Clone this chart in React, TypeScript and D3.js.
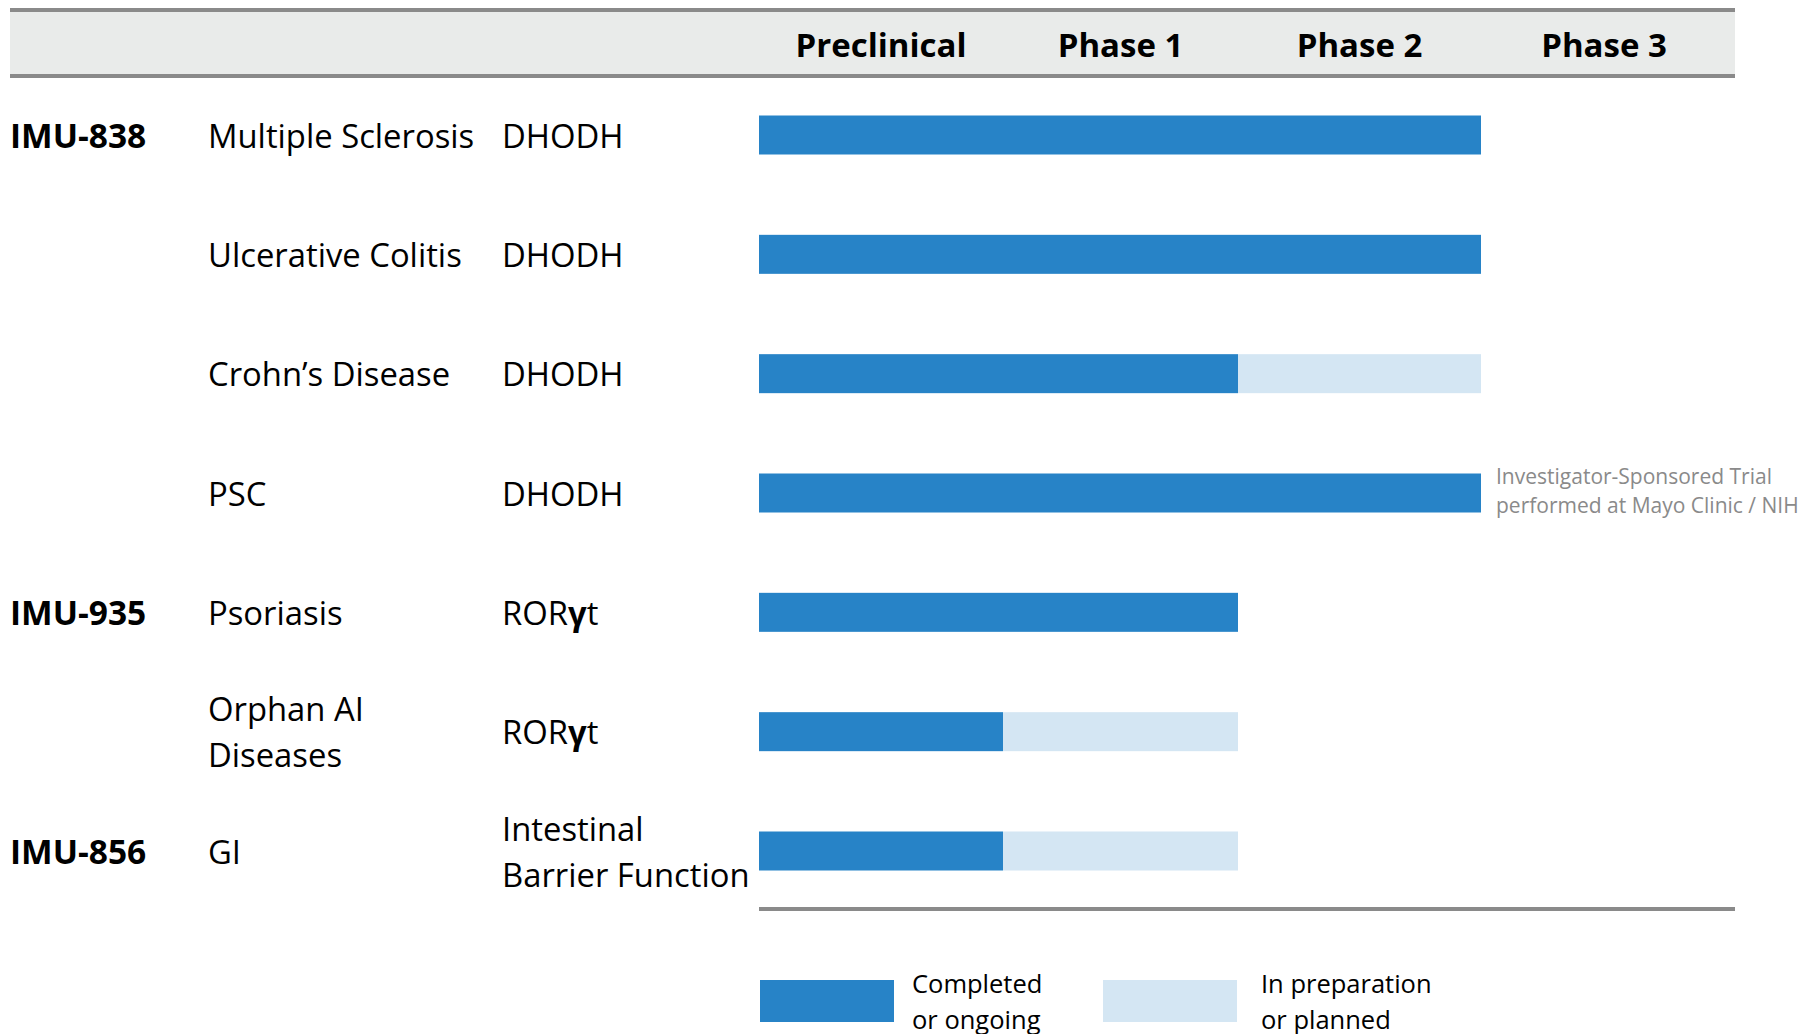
import React, { useEffect } from "react";
import * as d3 from "d3";

// pipeline data
const phases = ["Preclinical", "Phase 1", "Phase 2", "Phase 3"];
const compounds = ["IMU-838", "", "", "", "IMU-935", "", "IMU-856"];
const indications = [
  ["Multiple Sclerosis"],
  ["Ulcerative Colitis"],
  ["Crohn’s Disease"],
  ["PSC"],
  ["Psoriasis"],
  ["Orphan AI", "Diseases"],
  ["GI"],
];
const targets = [
  ["DHODH"],
  ["DHODH"],
  ["DHODH"],
  ["DHODH"],
  ["RORγt"],
  ["RORγt"],
  ["Intestinal", "Barrier Function"],
];
// progress measured in phases (0 = start of preclinical)
const completed = [3, 3, 2, 3, 2, 1, 1];
const planned = [3, 3, 3, 3, 2, 2, 2];
const noteRow = 3;
const noteLines = ["Investigator-Sponsored Trial", "performed at Mayo Clinic / NIH"];
const legendLabels = [
  ["Completed", "or ongoing"],
  ["In preparation", "or planned"],
];

const W = 1804;
const H = 1034;
const DARK = "#2783c7";
const LIGHT = "#d4e6f3";
const RULE = "#8a8a8a";
const FONT = "'Open Sans', sans-serif";

// draws "γ" in bold, like the original slide
const renderLabel = (s: string) =>
  s.split(/(γ)/).map((part, i) =>
    part === "γ" ? (
      <tspan key={i} fontWeight="bold">
        {part}
      </tspan>
    ) : (
      <tspan key={i}>{part}</tspan>
    )
  );

const App: React.FC = () => {
  useEffect(() => {
    document.body.style.margin = "0";
  }, []);

  const rows = d3.range(compounds.length);
  // phase columns are not quite equal on the slide
  const x = d3.scaleLinear().domain([0, 1, 2, 3, 4]).range([759, 1003, 1238, 1481, 1727]);
  const y = d3.scalePoint<number>().domain(rows).range([135, 851]);
  const barH = 39;
  const lineGap = 46;

  const multiLine = (lines: string[], xPos: number, cy: number, key: string) => (
    <text key={key} x={xPos} y={cy} fontSize={32.8} fill="#000" fontFamily={FONT}>
      {lines.map((l, i) => (
        <tspan key={i} x={xPos} y={cy + (i - (lines.length - 1) / 2) * lineGap} dy="0.36em">
          {renderLabel(l)}
        </tspan>
      ))}
    </text>
  );

  return (
    <svg
      width={W}
      height={H}
      style={{ position: "absolute", left: 0, top: 0, display: "block", background: "#fff" }}
    >
      {/* header band */}
      <rect x={10} y={10} width={1725} height={66} fill="#e9ebea" />
      <line x1={10} x2={1735} y1={10} y2={10} stroke={RULE} strokeWidth={4} />
      <line x1={10} x2={1735} y1={76} y2={76} stroke={RULE} strokeWidth={4} />
      {phases.map((p, i) => (
        <text
          key={p}
          x={(x(i) + x(i + 1)) / 2}
          y={45}
          dy="0.36em"
          textAnchor="middle"
          fontSize={33}
          fontWeight="bold"
          fontFamily={FONT}
          fill="#000"
        >
          {p}
        </text>
      ))}

      {/* row labels */}
      {rows.map((r) => (
        <g key={r}>
          {compounds[r] && (
            <text x={10} y={y(r)! + 1} dy="0.36em" fontSize={33.5} fontWeight="bold" fontFamily={FONT}>
              {compounds[r]}
            </text>
          )}
          {multiLine(indications[r], 208, y(r)! + 1, "ind" + r)}
          {multiLine(targets[r], 502, y(r)! + 1, "tgt" + r)}
        </g>
      ))}

      {/* bars */}
      {rows.map((r) => (
        <g key={"bar" + r}>
          {planned[r] > completed[r] && (
            <rect
              x={x(completed[r])}
              y={y(r)! - barH / 2}
              width={x(planned[r]) - x(completed[r])}
              height={barH}
              fill={LIGHT}
            />
          )}
          <rect x={x(0)} y={y(r)! - barH / 2} width={x(completed[r]) - x(0)} height={barH} fill={DARK} />
        </g>
      ))}

      {/* note */}
      <text x={1496} y={y(noteRow)!} fontSize={21} fill={RULE} fontFamily={FONT}>
        {noteLines.map((l, i) => (
          <tspan key={i} x={1496} y={y(noteRow)! - 2 + (i - 0.5) * 29} dy="0.36em">
            {l}
          </tspan>
        ))}
      </text>

      {/* bottom rule */}
      <line x1={759} x2={1735} y1={909} y2={909} stroke={RULE} strokeWidth={4} />

      {/* legend */}
      {legendLabels.map((lbl, i) => {
        const bx = i === 0 ? 760 : 1103;
        return (
          <g key={"leg" + i}>
            <rect x={bx} y={980} width={134} height={42} fill={i === 0 ? DARK : LIGHT} />
            <text x={bx + 152} y={984} fontSize={25.5} fontFamily={FONT}>
              {lbl.map((l, j) => (
                <tspan key={j} x={bx + 152 + (i === 1 ? 6 : 0)} y={984 + j * 36} dy="0.36em">
                  {l}
                </tspan>
              ))}
            </text>
          </g>
        );
      })}
    </svg>
  );
};

export default App;
